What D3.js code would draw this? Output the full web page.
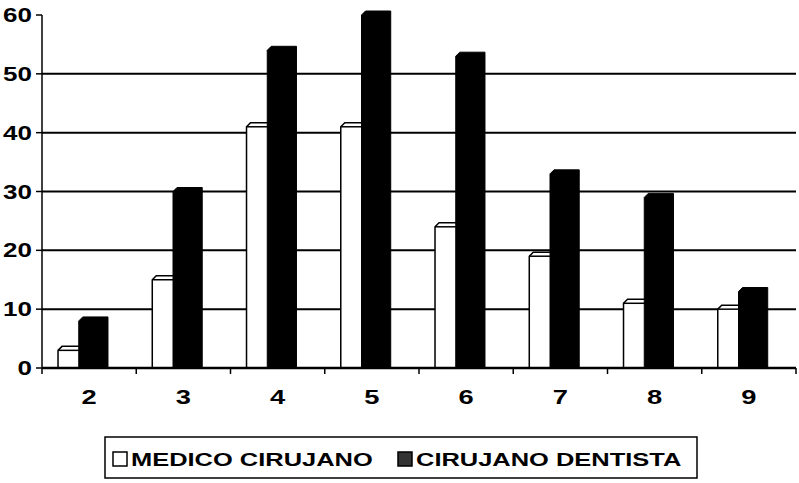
<!DOCTYPE html>
<html>
<head>
<meta charset="utf-8">
<script src="https://cdn.jsdelivr.net/npm/d3@7"></script>
<style>
  body { margin: 0; background: #fff; }
  text { font-family: "Liberation Sans", Arial, sans-serif; font-weight: bold; }
</style>
</head>
<body>
<div id="chart"></div>
<script>
// Data
var categories = ["2", "3", "4", "5", "6", "7", "8", "9"];
var medico = [3, 15, 41, 41, 24, 19, 11, 10];
var dentista = [8, 30, 54, 60, 53, 33, 29, 13];
var yTicks = [0, 10, 20, 30, 40, 50, 60];
var seriesNames = ["MEDICO CIRUJANO", "CIRUJANO DENTISTA"];

var margin = {top: 15, right: 3, bottom: 115, left: 42},
    width = 799 - margin.left - margin.right,
    height = 483 - margin.top - margin.bottom;

// the original lettering is wide, so stretch text horizontally
var stretch = 1.3;

var svg = d3.select("#chart")
  .append("svg")
    .attr("width", 799)
    .attr("height", 483)
  .append("g")
    .attr("transform", "translate(" + margin.left + "," + margin.top + ")");

var x = d3.scaleBand().domain(categories).range([0, width]);
var y = d3.scaleLinear().domain([0, 60]).range([height, 0]);

// gridlines
svg.selectAll(".grid")
  .data(yTicks.filter(function(d) { return d > 0 && d < 60; }))
  .enter().append("line")
    .attr("x1", 0).attr("x2", width)
    .attr("y1", function(d) { return y(d); })
    .attr("y2", function(d) { return y(d); })
    .attr("stroke", "#000")
    .attr("stroke-width", 2);

// bars with a small bevelled top
var bw = x.bandwidth();
var barW = bw * 0.31;
var bev = 4;

function barPath(x0, v) {
  var top = y(v), bot = y(0);
  return "M" + x0 + "," + bot +
    "L" + x0 + "," + top +
    "L" + (x0 + bev) + "," + (top - bev) +
    "L" + (x0 + barW) + "," + (top - bev) +
    "L" + (x0 + barW) + "," + bot + "Z";
}

var groups = svg.selectAll(".cat")
  .data(categories)
  .enter().append("g");

groups.append("path")
  .attr("d", function(d, i) { return barPath(x(d) + bw * 0.17, medico[i]); })
  .attr("fill", "#fff")
  .attr("stroke", "#000")
  .attr("stroke-width", 1.5);

groups.append("line")
  .attr("x1", function(d) { return x(d) + bw * 0.17; })
  .attr("x2", function(d) { return x(d) + bw * 0.17 + barW; })
  .attr("y1", function(d, i) { return y(medico[i]); })
  .attr("y2", function(d, i) { return y(medico[i]); })
  .attr("stroke", "#000")
  .attr("stroke-width", 1.5);

groups.append("path")
  .attr("d", function(d, i) { return barPath(x(d) + bw * 0.39, dentista[i]); })
  .attr("fill", "#000")
  .attr("stroke", "#000")
  .attr("stroke-width", 1);

// x axis
var xAxis = svg.append("g")
  .attr("transform", "translate(0," + height + ")");
xAxis.append("line")
  .attr("x1", 0).attr("x2", width)
  .attr("stroke", "#000").attr("stroke-width", 2.5);
xAxis.selectAll(".xt")
  .data(categories.concat(["end"]))
  .enter().append("line")
    .attr("x1", function(d, i) { return i * bw; })
    .attr("x2", function(d, i) { return i * bw; })
    .attr("y1", 0).attr("y2", 6)
    .attr("stroke", "#000").attr("stroke-width", 1.5);
xAxis.selectAll(".xl")
  .data(categories)
  .enter().append("text")
    .attr("transform", function(d) {
      return "translate(" + (x(d) + bw / 2) + ",36) scale(" + stretch + ",1)";
    })
    .attr("text-anchor", "middle")
    .attr("font-size", "21px")
    .text(function(d) { return d; });

// y axis
var yAxis = svg.append("g");
yAxis.append("line")
  .attr("x1", 0).attr("x2", 0)
  .attr("y1", y(60)).attr("y2", y(0))
  .attr("stroke", "#000").attr("stroke-width", 1.5);
yAxis.selectAll(".yt")
  .data(yTicks)
  .enter().append("line")
    .attr("x1", -6).attr("x2", 0)
    .attr("y1", function(d) { return y(d); })
    .attr("y2", function(d) { return y(d); })
    .attr("stroke", "#000").attr("stroke-width", 1.5);
yAxis.selectAll(".yl")
  .data(yTicks)
  .enter().append("text")
    .attr("transform", function(d) {
      return "translate(-10," + (y(d) + 7) + ") scale(" + stretch + ",1)";
    })
    .attr("text-anchor", "end")
    .attr("font-size", "20px")
    .text(function(d) { return d; });

// legend
var legend = d3.select("svg").append("g")
  .attr("transform", "translate(105,437)");
legend.append("rect")
  .attr("width", 592).attr("height", 41)
  .attr("fill", "#fff")
  .attr("stroke", "#000").attr("stroke-width", 1.5);
var items = [
  {name: seriesNames[0], fill: "#fff", x: 8},
  {name: seriesNames[1], fill: "#333", x: 293}
];
items.forEach(function(it) {
  legend.append("rect")
    .attr("x", it.x).attr("y", 15)
    .attr("width", 14).attr("height", 14)
    .attr("fill", it.fill)
    .attr("stroke", "#000").attr("stroke-width", 1.5);
  legend.append("text")
    .attr("transform", "translate(" + (it.x + 18) + ",29) scale(1.34,1)")
    .attr("font-size", "19px")
    .text(it.name);
});
</script>
</body>
</html>
